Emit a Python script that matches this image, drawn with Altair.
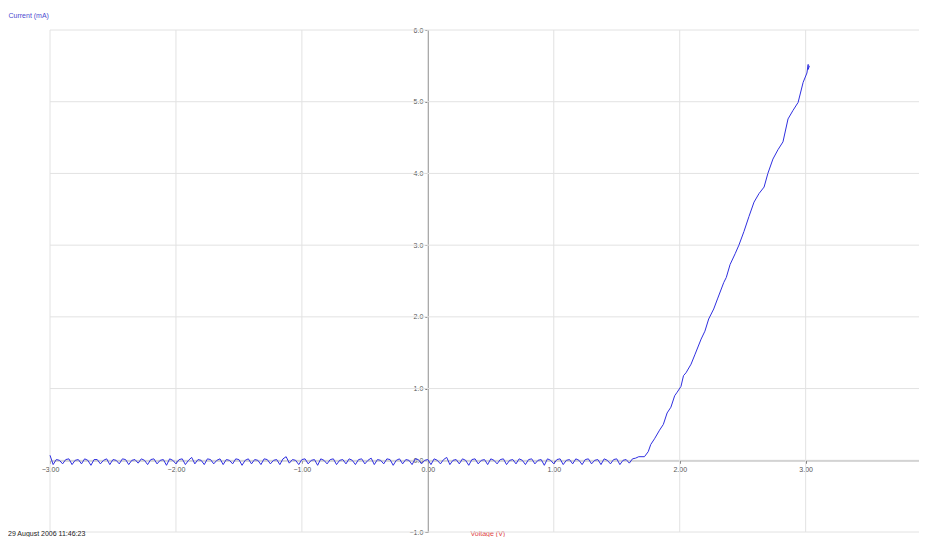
import altair as alt
import pandas as pd

# ---- data ----
noise_start_v = -3.0
noise_step_v = 0.025
noise_i = [
    0.07, -0.06, 0.01, 0.00, -0.05, 0.01, 0.02, -0.06, 0.00, 0.01,
    -0.05, 0.02, 0.00, -0.07, 0.01, 0.01, -0.05, 0.00, 0.02, -0.06,
    0.01, 0.00, -0.05, 0.02, 0.01, -0.06, 0.00, 0.01, -0.04, 0.02,
    0.00, -0.06, 0.01, 0.02, -0.05, 0.00, 0.01, -0.07, 0.02, 0.00,
    -0.05, 0.01, 0.02, -0.06, 0.00, 0.04, -0.05, 0.01, 0.00, -0.06,
    0.02, 0.01, -0.05, 0.00, 0.02, -0.06, 0.01, 0.00, -0.05, 0.02,
    0.01, -0.07, 0.00, 0.02, -0.05, 0.01, 0.00, -0.06, 0.02, 0.01,
    -0.05, 0.00, 0.01, -0.06, 0.02, 0.05, -0.04, 0.01, 0.00, -0.06,
    0.01, 0.02, -0.05, 0.00, 0.01, -0.07, 0.02, 0.00, -0.05, 0.01,
    0.02, -0.06, 0.00, 0.01, -0.05, 0.02, 0.00, -0.06, 0.01, 0.02,
    -0.05, 0.00, 0.03, -0.06, 0.01, 0.00, -0.05, 0.02, 0.01, -0.07,
    0.00, 0.02, -0.05, 0.01, 0.00, -0.06, 0.02, 0.01, -0.05, 0.00,
    0.01, -0.06, 0.02, 0.00, -0.05, 0.01, 0.04, -0.06, 0.00, 0.01,
    -0.05, 0.02, 0.00, -0.07, 0.01, 0.02, -0.05, 0.00, 0.01, -0.06,
    0.02, 0.00, -0.05, 0.01, 0.02, -0.06, 0.00, 0.01, -0.05, 0.02,
    0.00, -0.06, 0.01, 0.02, -0.05, 0.00, 0.01, -0.07, 0.02, 0.00,
    -0.05, 0.01, 0.02, -0.06, 0.00, 0.01, -0.05, 0.02, 0.00, -0.06,
    0.01, 0.02, -0.05, 0.00, 0.01, -0.06, 0.02, 0.00, -0.05, 0.01,
    0.02, -0.06, 0.00, 0.01, -0.04, 0.02, 0.03, 0.05,
]
rise_v = [1.72, 1.75, 1.77, 1.80, 1.84, 1.87, 1.90, 1.93, 1.96, 1.98,
          2.01, 2.03, 2.05, 2.09, 2.12, 2.17, 2.20, 2.23, 2.27, 2.30,
          2.35, 2.37, 2.40, 2.44, 2.47, 2.51, 2.55, 2.59, 2.63, 2.67,
          2.70, 2.74, 2.78, 2.82, 2.86, 2.90, 2.94, 2.98, 3.01, 3.02,
          3.02, 3.03]
rise_i = [0.05, 0.12, 0.22, 0.30, 0.42, 0.50, 0.66, 0.74, 0.90, 0.95,
          1.03, 1.18, 1.22, 1.34, 1.47, 1.69, 1.80, 1.97, 2.11, 2.25,
          2.48, 2.55, 2.73, 2.88, 3.00, 3.19, 3.40, 3.60, 3.72, 3.81,
          4.00, 4.20, 4.33, 4.44, 4.76, 4.88, 4.99, 5.27, 5.40, 5.52,
          5.45, 5.50]
x_ticks = [-3, -2, -1, 0, 1, 2, 3]
y_ticks = [-1, 0, 1, 2, 3, 4, 5, 6]
x_title = "Voltage (V)"
y_title = "Current (mA)"
date_text = "29 August 2006  11:46:23"

volts = [round(noise_start_v + noise_step_v * k, 3) for k in range(len(noise_i))] + rise_v
amps = noise_i + rise_i
df = pd.DataFrame({"v": volts, "i": amps, "order": list(range(len(volts)))})

W, H = 869, 502
xdom = [-3, 3.9]
ydom = [-1, 6]
xscale = alt.Scale(domain=xdom, nice=False, zero=False)
yscale = alt.Scale(domain=ydom, nice=False, zero=False)

x_off = -H * (0 - ydom[0]) / (ydom[1] - ydom[0])
y_off = -W * (0 - xdom[0]) / (xdom[1] - xdom[0])

font = "Liberation Sans"
xaxis = alt.Axis(values=x_ticks, format=".2f", offset=x_off, grid=False,
                 domainColor="#777777", tickColor="#777777", tickSize=3,
                 labelFontSize=7, labelColor="#555555", labelFont=font,
                 labelFlush=False, labelOverlap=False, labelPadding=2,
                 title=x_title, titleColor="#e04040", titleFontSize=7,
                 titleFont=font, titleFontWeight="normal",
                 titleX=420, titleY=76, titleAlign="left", titleBaseline="bottom")
yaxis = alt.Axis(values=y_ticks, format=".1f", offset=y_off, grid=False,
                 domainColor="#777777", tickColor="#777777", tickSize=3,
                 labelFontSize=7, labelColor="#555555", labelFont=font,
                 labelFlush=False, labelOverlap=False, labelPadding=2,
                 title=y_title, titleColor="#4a4ad0", titleFontSize=7,
                 titleFont=font, titleFontWeight="normal", titleAngle=0,
                 titleX=y_off - 42, titleY=-15, titleAlign="left",
                 titleBaseline="middle")

vgrid = alt.Chart(pd.DataFrame({"v": x_ticks})).mark_rule(
    color="#e2e2e2", strokeWidth=1
).encode(x=alt.X("v:Q", scale=xscale, axis=xaxis))

hgrid = alt.Chart(pd.DataFrame({"i": y_ticks})).mark_rule(
    color="#e2e2e2", strokeWidth=1
).encode(y=alt.Y("i:Q", scale=yscale, axis=yaxis))

line = alt.Chart(df).mark_line(color="#2f2fe0", strokeWidth=1).encode(
    x=alt.X("v:Q", scale=xscale, axis=xaxis),
    y=alt.Y("i:Q", scale=yscale, axis=yaxis),
    order="order:Q",
)

stamp = alt.Chart(pd.DataFrame({"t": [date_text]})).mark_text(
    align="left", baseline="bottom", fontSize=7, font=font, color="#222222"
).encode(x=alt.value(-42), y=alt.value(H + 5), text="t:N")

chart = alt.layer(vgrid, hgrid, line, stamp).properties(
    width=W, height=H,
    autosize=alt.AutoSizeParams(type="none"),
    padding={"left": 42, "top": 22, "right": 0, "bottom": 5},
).configure_view(stroke=None)

chart.save("out.html", embed_options={"renderer": "svg", "actions": False})
